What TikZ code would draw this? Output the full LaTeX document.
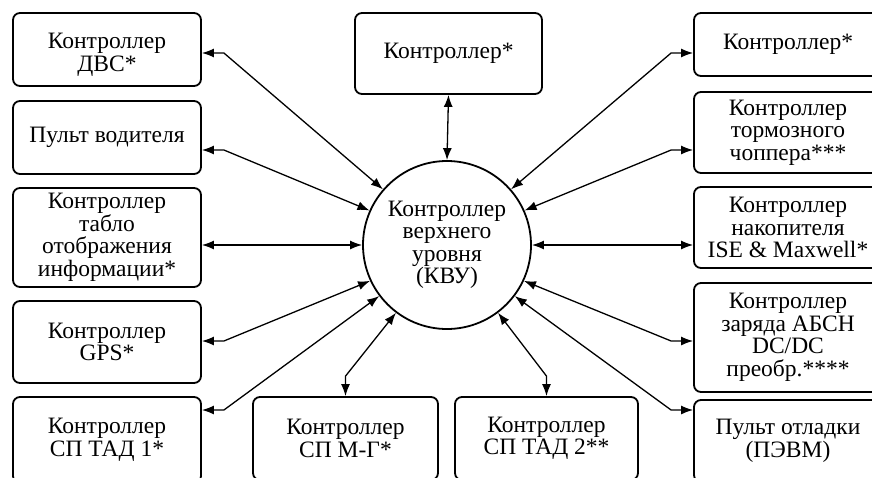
\documentclass[tikz,border=0pt]{standalone}
\usepackage{fontspec}
\setmainfont{Liberation Serif}
\usetikzlibrary{arrows.meta}
\begin{document}
\begin{tikzpicture}[x=1pt,y=-1pt,
  txt/.style={font=\fontsize{23.5}{22.5}\selectfont},
  unit/.style={txt, draw, line width=1.8pt, rounded corners=7pt, align=center, inner sep=0pt},
  hub/.style={txt, draw, circle, line width=1.8pt, minimum size=168pt, inner sep=0pt, align=center},
  link/.style={line width=1.3pt, {Latex[length=12pt,width=9pt]}-{Latex[length=12pt,width=9pt]}}
]
\useasboundingbox (0,0) rectangle (872,477);
\clip (0,0) rectangle (872,477);

% central controller
\node[hub] (kvu) at (447,245) {Контроллер\\верхнего\\уровня\\(КВУ)};

% left column
\node[unit, minimum width=188pt, minimum height=73pt] (L1) at (107,49.5) {\rule{0pt}{26pt}Контроллер\\ДВС*};
\node[unit, minimum width=188pt, minimum height=73pt] (L2) at (107,137.5) {Пульт водителя};
\node[unit, minimum width=188pt, minimum height=99pt] (L3) at (107,237.5) {Контроллер\\табло\\отображения\\информации*};
\node[unit, minimum width=188pt, minimum height=82pt] (L4) at (107,342) {Контроллер\\GPS*};
\node[unit, minimum width=188pt, minimum height=86pt] (L5) at (107,440) {Контроллер\\СП ТАД 1*};

% top and bottom
\node[unit, minimum width=187pt, minimum height=81pt] (T) at (448.5,53.5) {Контроллер*};
\node[unit, minimum width=185pt, minimum height=83pt] (MG) at (345.5,438.5) {Контроллер\\СП М-Г*};
\node[unit, minimum width=183pt, minimum height=83pt] (TD) at (546.5,438.5) {Контроллер\\СП ТАД 2**};

% right column
\node[unit, minimum width=188pt, minimum height=63pt] (R1) at (788,44.5) {Контроллер*};
\node[unit, minimum width=188pt, minimum height=81pt] (R2) at (788,132.5) {Контроллер\\тормозного\\чоппера***};
\node[unit, minimum width=188pt, minimum height=81pt] (R3) at (788,227.5) {Контроллер\\накопителя\\ISE \& Maxwell*};
\node[unit, minimum width=188pt, minimum height=109pt] (R4) at (788,337.5) {Контроллер\\заряда АБСН\\DC/DC\\преобр.****};
\node[unit, minimum width=188pt, minimum height=82pt] (R5) at (788,441) {Пульт отладки\\(ПЭВМ)};

% connector levels
\coordinate (lv1) at (0,53);
\coordinate (lv2) at (0,150);
\coordinate (lv3) at (0,245);
\coordinate (lv4) at (0,341);
\coordinate (lv5) at (0,410);

% links
\draw[link] (L1.east |- lv1) -- ++(22,0) -- (kvu.139);
\draw[link] (L2.east |- lv2) -- ++(22,0) -- (kvu.156);
\draw[link] (L3.east |- lv3) -- (kvu.180);
\draw[link] (L4.east |- lv4) -- ++(22,0) -- (kvu.205);
\draw[link] (L5.east |- lv5) -- ++(22,0) -- (kvu.217);

\draw[link] (R1.west |- lv1) -- ++(-22,0) -- (kvu.41);
\draw[link] (R2.west |- lv2) -- ++(-22,0) -- (kvu.24);
\draw[link] (R3.west |- lv3) -- (kvu.0);
\draw[link] (R4.west |- lv4) -- ++(-22,0) -- (kvu.335);
\draw[link] (R5.west |- lv5) -- ++(-22,0) -- (kvu.323);

\draw[link] (T.south) -- (kvu.north);
\draw[link] (MG.north) -- ++(0,-20) -- (kvu.233);
\draw[link] (TD.north) -- ++(0,-20) -- (kvu.307);
\end{tikzpicture}
\end{document}
